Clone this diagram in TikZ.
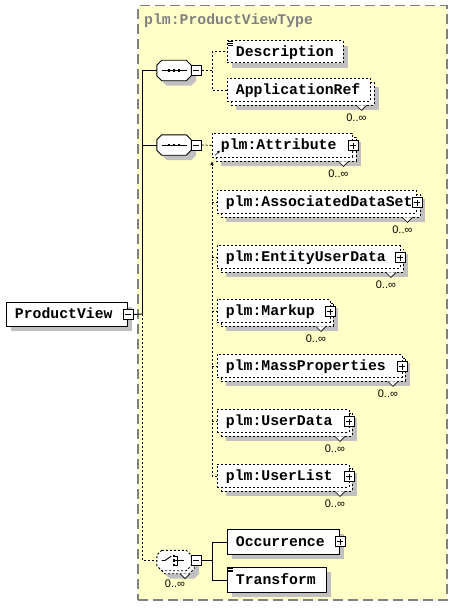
\documentclass[tikz,border=0pt]{standalone}
\usepackage{fontspec}
\setmonofont{Liberation Mono}
\newfontfamily\lblfont{Liberation Sans}
\usetikzlibrary{shadows,arrows.meta}
\definecolor{frameyellow}{RGB}{255,255,200}
\definecolor{shadowgray}{RGB}{192,192,192}
\definecolor{titlegray}{RGB}{128,128,128}
\tikzset{
  elemfont/.style={font=\ttfamily\bfseries\fontsize{14.8}{16}\selectfont},
  occfont/.style={font=\lblfont\fontsize{11}{12}\selectfont},
  shad/.style={drop shadow={shadow xshift=5pt,shadow yshift=-5pt,fill=shadowgray,opacity=1}},
  ebox/.style n args={2}{rectangle, draw=black, fill=white, line width=0.9pt, anchor=north west,
     minimum width=#1pt, minimum height=#2pt, text width=#1pt-17pt, inner xsep=8.5pt, inner ysep=0pt,
     text height=9pt, text depth=0pt, align=left, elemfont},
  backbox/.style n args={2}{rectangle, draw=black, fill=white, line width=0.9pt, anchor=north west,
     minimum width=#1pt, minimum height=#2pt, inner sep=0pt},
  opt/.style={dash pattern=on 2pt off 2pt},
  conn/.style={line width=0.9pt},
  pmbox/.style={rectangle, draw=black, fill=white, line width=0.8pt, minimum size=10pt, inner sep=0pt},
  minusbox/.style={pmbox, path picture={\draw[line width=0.8pt] ([xshift=2pt]path picture bounding box.west) -- ([xshift=-2pt]path picture bounding box.east);}},
  plusbox/.style={pmbox, path picture={\draw[line width=0.8pt] ([xshift=2pt]path picture bounding box.west) -- ([xshift=-2pt]path picture bounding box.east) ([yshift=2pt]path picture bounding box.south) -- ([yshift=-2pt]path picture bounding box.north);}},
  octarea/.style={rectangle, minimum width=34pt, minimum height=20pt, inner sep=0pt},
  octline/.style={draw=black, fill=white, line width=0.9pt},
}
\newcommand\octpath[1]{([xshift=5pt]#1.north west) -- ([xshift=-5pt]#1.north east) -- ([yshift=-5pt]#1.north east) -- ([yshift=5pt]#1.south east) -- ([xshift=-5pt]#1.south east) -- ([xshift=5pt]#1.south west) -- ([yshift=5pt]#1.south west) -- ([yshift=-5pt]#1.north west) -- cycle}
\newcommand\melem[6]{%
  \node[backbox={#4}{#5}, opt, shad] (#1b) at ({#2+3.5},{#3+3.5}) {};
  \node[ebox={#4}{#5}, opt] (#1) at (#2,#3) {#6};
  \draw[line width=0.7pt, fill=white] ([xshift=-18pt]#1b.south east) -- ++(5,5) -- ++(5,-5);
  \node[occfont, inner sep=0pt] (#1occ) at ([xshift=-18pt,yshift=-12pt]#1b.south east) {0..∞};
}
\newcommand\simplemark[1]{%
  \draw[line width=0.6pt] ([xshift=1pt,yshift=-1.2pt]#1.north west) -- ++(4.5,0)
     ([xshift=1pt,yshift=-2.8pt]#1.north west) -- ++(4.5,0)
     ([xshift=1pt,yshift=-4.4pt]#1.north west) -- ++(4.5,0);
}
\newcommand\seqglyph[1]{%
  \begin{scope}[shift={(#1.center)}]
    \draw[line width=0.9pt] (-12.5,0) -- (12.5,0);
    \fill (-6.4,-1.4) rectangle (-3.6,1.4);
    \fill (-1.4,-1.4) rectangle (1.4,1.4);
    \fill (3.6,-1.4) rectangle (6.4,1.4);
  \end{scope}
}
\begin{document}
\begin{tikzpicture}[x=1pt,y=-1pt]
\useasboundingbox (0,0) rectangle (452,610);
% frame
\node[draw=titlegray, line width=1.5pt, dash pattern=on 10pt off 5pt, fill=frameyellow,
      anchor=north west, minimum width=309pt, minimum height=594pt, inner sep=0pt] (frame) at (137,5) {};
\node[anchor=base west, text=titlegray, elemfont, inner sep=0pt] (title) at (144,25) {plm:ProductViewType};

% root element
\node[ebox={121}{24}, shad] (pv) at (6,302) {ProductView};
\node[minusbox] (pvm) at (pv.east) {};

% compositors
\node[octarea] (s1) at (174,70.5) {};
\draw[octline, shad] \octpath{s1};
\seqglyph{s1}
\node[minusbox] (s1m) at ([xshift=5pt]s1.east) {};
\node[octarea] (s2) at (174,145) {};
\draw[octline, shad] \octpath{s2};
\seqglyph{s2}
\node[minusbox] (s2m) at ([xshift=5pt]s2.east) {};
\node[octarea] (c3b) at (177,563.5) {};
\draw[octline, opt, shad] \octpath{c3b};
\draw[line width=0.7pt, fill=white] ([xshift=3pt]c3b.south) -- ++(5,5) -- ++(5,-5);
\node[octarea] (c3) at (174,560.5) {};
\draw[octline, opt] \octpath{c3};
\begin{scope}[shift={(c3.center)}]
  \draw[line width=0.9pt] (-12.3,0) -- (-9,0) -- (-2.6,-4.5);
  \fill (-1.3,-5.8) rectangle (1.3,-3.2);
  \fill (-1.3,-1.3) rectangle (1.3,1.3);
  \fill (-1.3,3.2) rectangle (1.3,5.8);
  \draw[line width=0.9pt] (0,-4.5) -- (3.5,-4.5) -- (3.5,4.5) -- (0,4.5) (0,0) -- (10,0);
\end{scope}
\node[minusbox] (c3m) at ([xshift=5pt]c3.east) {};
\node[occfont, inner sep=0pt] (c3occ) at (175,584) {0..∞};

% trunk
\coordinate (tk) at (142.7,314);
\draw[conn] (pvm.east) -- (tk);
\draw[conn] (tk) -- (tk |- s1.west) -- (s1.west);
\draw[conn] (tk |- s2.west) -- (s2.west);
\draw[conn, opt] (tk) -- (tk |- c3.west) -- (c3.west);

% first sequence children
\node[ebox={116}{22}, opt, shad] (desc) at (227,40.5) {Description};
\simplemark{desc}
\melem{appref}{227}{78}{143}{23}{ApplicationRef}
\coordinate (f1) at (212,70.5);
\draw[conn, opt] (s1m.east) -- (f1) |- (desc.west);
\draw[conn, opt] (f1) |- (appref.west);

% second sequence children
\melem{attr}{212}{133}{140}{24}{plm:Attribute}
\melem{ads}{217}{190}{199}{23}{plm:AssociatedDataSet}
\melem{eud}{217}{245}{182.5}{23}{plm:EntityUserData}
\melem{mk}{217}{299}{112.5}{23}{plm:Markup}
\melem{mp}{217}{354}{184.5}{23}{plm:MassProperties}
\melem{ud}{217}{409}{131.5}{23}{plm:UserData}
\melem{ul}{217}{464}{131.5}{23}{plm:UserList}
\foreach \n in {attr,ads,eud,mk,mp,ud,ul}{
  \node[plusbox] (\n p) at ([yshift=-12.5pt]\n.north east) {};
}
\draw[conn, opt] (s2m.east) -- (attr.west);
\coordinate (sg) at (212,161);
\draw[conn, opt, -{Latex[length=4pt,width=3.5pt]}] (ul.west) -- (sg |- ul.west) -- (sg);
\foreach \n in {ads,eud,mk,mp,ud}{
  \draw[conn, opt] (sg |- \n.west) -- (\n.west);
}
\coordinate (da) at (215,155.5);
\draw[line width=0.7pt, -{Latex[length=3pt,width=3pt]}] (da) -- ++(5,-5);

% choice children
\node[ebox={112}{25}, shad] (occ) at (227,529) {Occurrence};
\node[plusbox] (occp) at ([yshift=-12.5pt]occ.north east) {};
\node[ebox={99}{25}, shad] (trans) at (227,567) {Transform};
\simplemark{trans}
\coordinate (f3) at (212,560.5);
\draw[conn] (c3m.east) -- (f3) |- (occ.west);
\draw[conn] (f3) |- (trans.west);
\end{tikzpicture}
\end{document}
